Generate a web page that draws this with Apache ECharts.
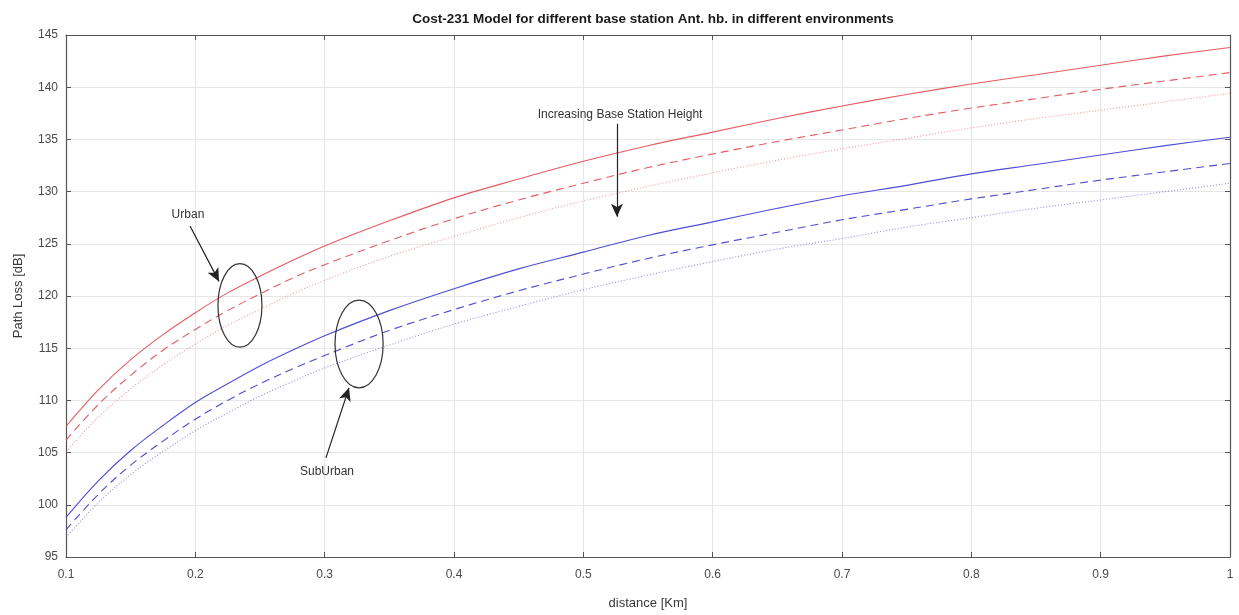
<!DOCTYPE html>
<html>
<head>
<meta charset="utf-8">
<script src="https://cdn.jsdelivr.net/npm/echarts@6/dist/echarts.min.js"></script>
<style>html,body{margin:0;padding:0;background:#fff}#c{width:1239px;height:615px}</style>
</head>
<body>
<div id="c"></div>
<script>
const distance    = [0.100,0.125,0.150,0.175,0.200,0.225,0.250,0.275,0.30,0.35,0.40,0.45,0.50,0.55,0.60,0.65,0.70,0.75,0.80,0.85,0.90,0.95,1.00];
const urbanSolid  = [107.5,111.0,113.9,116.3,118.4,120.3,121.9,123.4,124.8,127.2,129.4,131.2,132.9,134.4,135.7,137.0,138.2,139.3,140.3,141.2,142.1,143.0,143.8];
const urbanDashed = [106.2,109.6,112.4,114.8,116.8,118.6,120.2,121.7,123.0,125.3,127.4,129.2,130.8,132.3,133.6,134.8,135.9,137.0,138.0,138.9,139.8,140.6,141.4];
const urbanDotted = [105.1,108.4,111.1,113.4,115.4,117.2,118.7,120.2,121.5,123.8,125.7,127.5,129.1,130.5,131.8,133.0,134.1,135.1,136.1,137.0,137.8,138.6,139.4];
const subSolid    = [98.8,102.3,105.2,107.6,109.8,111.6,113.3,114.8,116.2,118.6,120.7,122.6,124.2,125.8,127.1,128.4,129.6,130.6,131.7,132.6,133.5,134.4,135.2];
const subDashed   = [97.6,101.0,103.8,106.1,108.2,110.0,111.6,113.0,114.3,116.7,118.7,120.5,122.1,123.6,124.9,126.1,127.3,128.3,129.3,130.2,131.1,131.9,132.7];
const subDotted   = [96.9,100.2,102.9,105.1,107.1,108.8,110.4,111.8,113.1,115.3,117.3,119.0,120.6,122.0,123.3,124.5,125.5,126.6,127.5,128.4,129.2,130.0,130.8];
const xTicks = [0.1,0.2,0.3,0.4,0.5,0.6,0.7,0.8,0.9,1];
const yTicks = [95,100,105,110,115,120,125,130,135,140,145];

// annotation anchors in data coordinates
const notes = [
  {text:'Urban', pos:[0.1943,127.8]},
  {text:'SubUrban', pos:[0.3018,103.2]},
  {text:'Increasing Base Station Height', pos:[0.5284,137.4]}
];
const arrows = [
  [[0.1959,126.7],[0.2183,121.4]],
  [[0.3010,104.5],[0.3188,111.2]],
  [[0.5260,136.5],[0.5260,127.6]]
];
const ellipses = [
  {center:[0.2345,119.1], rx:0.017, ry:4.0},
  {center:[0.3266,115.4], rx:0.0186, ry:4.2}
];

const RED = '#e4525a', BLUE = '#4343d4';
const pair = a => distance.map((d,i)=>[d,a[i]]);
const font = 'Liberation Sans, Arial, sans-serif';

function line(name, data, color, type, opacity){
  return {name, type:'line', data:pair(data), showSymbol:false, smooth:0.35, silent:true,
    lineStyle:{color, width:1.1, type, opacity}, z:3};
}

const chart = echarts.init(document.getElementById('c'), null, {renderer:'canvas'});
const axisLine = {show:true, lineStyle:{color:'#555', width:1.2}};
chart.setOption({
  animation:false,
  backgroundColor:'#fff',
  title:{text:'Cost-231 Model for different base station Ant. hb. in different environments',
    left:648, top:7, textAlign:'center',
    textStyle:{fontFamily:font, fontSize:13.5, fontWeight:'bold', color:'#1a1a1a'}},
  grid:{left:66, right:9, top:35, bottom:58, containLabel:false},
  xAxis:[{type:'value', min:0.1, max:1, interval:0.1, name:'distance [Km]', nameLocation:'middle', nameGap:40,
    nameTextStyle:{fontFamily:font, fontSize:13, color:'#3a3a3a'},
    axisLine, axisTick:{inside:true, length:5, lineStyle:{color:'#555'}},
    axisLabel:{fontFamily:font, fontSize:12, color:'#4a4a4a', margin:12, formatter:v=>String(+v.toFixed(1))},
    splitLine:{show:true, lineStyle:{color:'#e6e6e6', width:1}}},
   {type:'value', position:'top', min:0.1, max:1, interval:0.1, axisLine,
    axisTick:{inside:true, length:5, lineStyle:{color:'#555'}}, axisLabel:{show:false}, splitLine:{show:false}}],
  yAxis:[{type:'value', min:95, max:145, interval:5, name:'Path Loss [dB]', nameLocation:'middle', nameGap:41,
    nameTextStyle:{fontFamily:font, fontSize:13, color:'#3a3a3a'},
    axisLine, axisTick:{inside:true, length:5, lineStyle:{color:'#555'}},
    axisLabel:{fontFamily:font, fontSize:12, color:'#4a4a4a', margin:8},
    splitLine:{show:true, lineStyle:{color:'#e6e6e6', width:1}}},
   {type:'value', position:'right', min:95, max:145, interval:5, axisLine,
    axisTick:{inside:true, length:5, lineStyle:{color:'#555'}}, axisLabel:{show:false}, splitLine:{show:false}}],
  series:[
    line('Urban solid', urbanSolid, RED, 'solid', 0.95),
    line('Urban dashed', urbanDashed, RED, [8,5], 0.95),
    line('Urban dotted', urbanDotted, RED, [1,2], 0.6),
    line('SubUrban solid', subSolid, BLUE, 'solid', 0.95),
    line('SubUrban dashed', subDashed, BLUE, [8,5], 0.95),
    line('SubUrban dotted', subDotted, BLUE, [1,2], 0.6),
    {type:'line', data:[], silent:true,
      markLine:{silent:true, animation:false, symbolSize:[9,13],
        lineStyle:{color:'#222', width:1.2, type:'solid'}, label:{show:false},
        data:arrows.map(a=>[{coord:a[0], symbol:'none'},{coord:a[1], symbol:'arrow'}])}}
  ]
});

const px = p => chart.convertToPixel({xAxisIndex:0, yAxisIndex:0}, p);
const graphics = [];
ellipses.forEach(e=>{
  const c = px(e.center);
  const r = px([e.center[0]+e.rx, e.center[1]+e.ry]);
  graphics.push({type:'ellipse', shape:{cx:c[0], cy:c[1], rx:Math.abs(r[0]-c[0]), ry:Math.abs(r[1]-c[1])},
    style:{fill:'none', stroke:'#333', lineWidth:1.2}, z:10, silent:true});
});
notes.forEach(n=>{
  const p = px(n.pos);
  graphics.push({type:'text', x:p[0], y:p[1], z:10, silent:true,
    style:{text:n.text, fill:'#333', font:'12px ' + font, textAlign:'center', textVerticalAlign:'middle'}});
});
chart.setOption({graphic:graphics});
</script>
</body>
</html>
